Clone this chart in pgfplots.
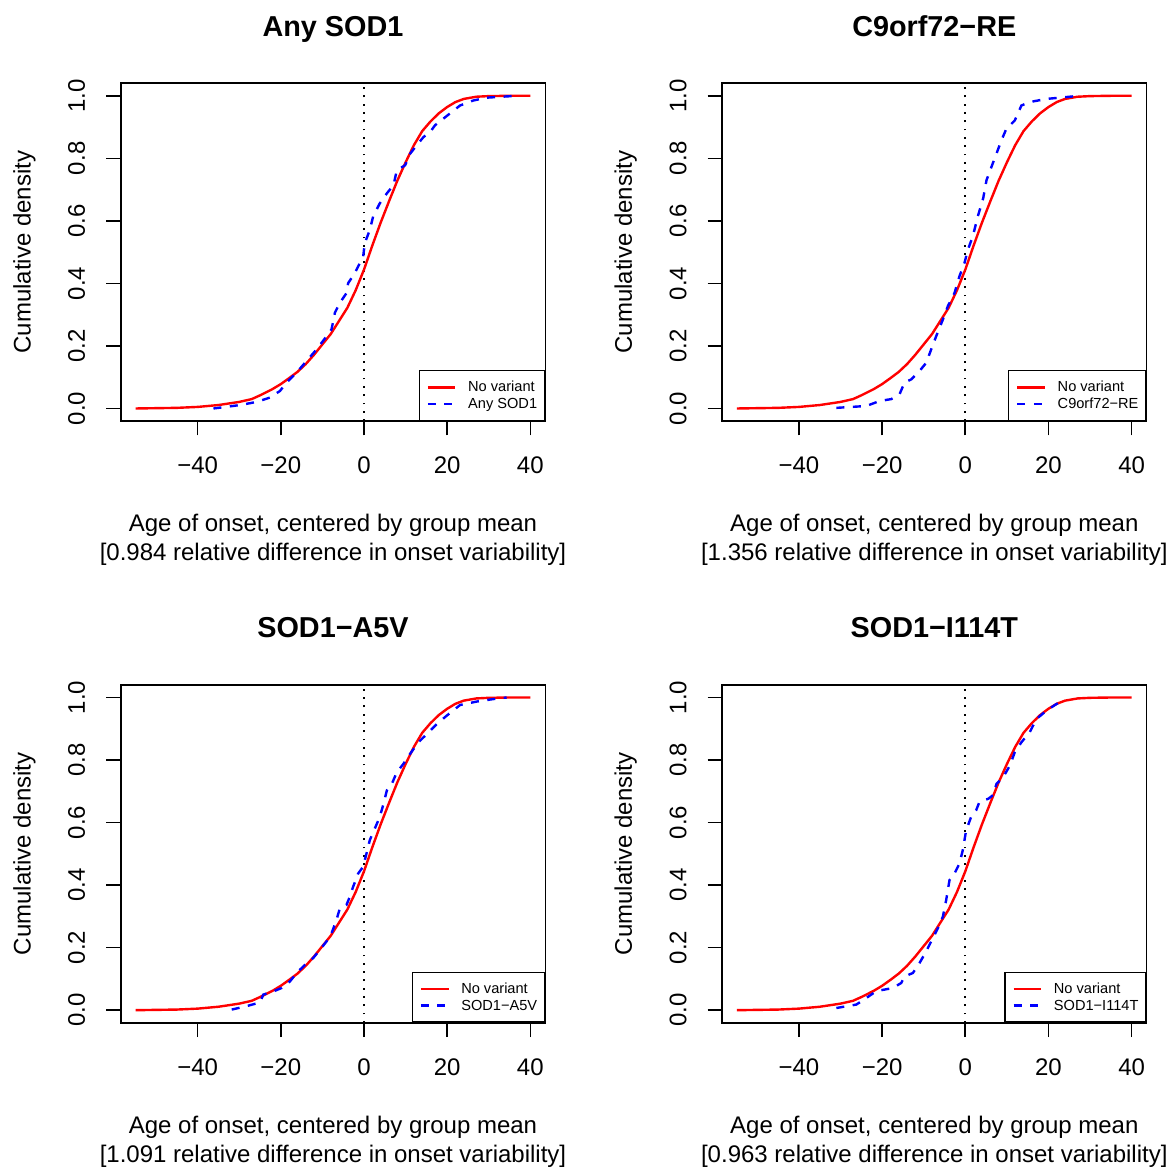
\documentclass[border=0pt]{standalone}
\usepackage{fontspec}
\setmainfont{Liberation Sans}
\usepackage{pgfplots}
\usepackage{pgfplotstable}
\pgfplotsset{compat=1.18}

\pgfplotstableread{
x y
-54.9 0
-50 0.001
-45 0.002
-40 0.005
-35 0.011
-30 0.021
-27 0.030
-25 0.042
-22 0.062
-20 0.078
-18 0.097
-16 0.117
-14 0.142
-12 0.172
-10 0.205
-8 0.238
-6 0.280
-4 0.322
-2 0.378
0 0.444
2 0.521
4 0.594
6 0.662
8 0.728
10 0.787
12 0.842
14 0.887
16 0.918
18 0.944
20 0.964
22 0.980
24 0.990
27 0.997
30 0.999
35 1.0
40 1.0
}\novariant

\pgfplotstableread{
x y
-36.2 0
-29.8 0.011
-25.8 0.021
-22.6 0.035
-20.2 0.056
-18.6 0.083
-16.2 0.115
-13.8 0.152
-11.4 0.189
-9.0 0.231
-7.8 0.253
-7.0 0.306
-5.8 0.338
-4.2 0.369
-3.8 0.401
-2.2 0.433
-0.2 0.486
0.2 0.529
1.4 0.571
2.2 0.614
3.8 0.656
5.5 0.688
7.1 0.714
7.9 0.762
9.9 0.778
11.1 0.815
12.7 0.842
14.3 0.868
15.9 0.884
17.1 0.906
19.1 0.927
21.1 0.948
23.1 0.969
26.3 0.985
29.5 0.994
36.7 1.0
}\anysod

\pgfplotstableread{
x y
-31.0 0.002
-23.8 0.008
-20.6 0.024
-17.8 0.030
-15.8 0.046
-14.6 0.083
-13.0 0.093
-11.0 0.120
-9.4 0.146
-8.2 0.189
-7.0 0.231
-5.4 0.284
-4.2 0.327
-2.6 0.369
-1.4 0.423
-0.2 0.465
0.6 0.507
1.8 0.550
3.0 0.614
4.3 0.672
5.1 0.730
6.3 0.773
7.5 0.815
8.7 0.858
9.9 0.895
11.9 0.921
13.5 0.969
15.5 0.980
19.5 0.990
24.3 0.996
27.5 1.0
}\cnine

\pgfplotstableread{
x y
-31.8 0.002
-28.2 0.013
-25.0 0.025
-24.2 0.050
-21.8 0.060
-19.8 0.071
-17.8 0.092
-16.2 0.119
-14.2 0.145
-12.2 0.167
-10.6 0.193
-9.0 0.220
-7.8 0.246
-6.6 0.289
-5.8 0.326
-4.2 0.337
-3.4 0.363
-2.6 0.395
-1.4 0.437
-0.2 0.459
0.6 0.501
1.4 0.544
2.6 0.581
3.8 0.618
4.7 0.660
5.5 0.703
6.7 0.724
7.9 0.761
9.5 0.788
11.1 0.820
13.1 0.857
15.1 0.883
17.5 0.915
19.9 0.942
23.1 0.976
27.1 0.987
31.1 0.995
34.3 1.0
}\afive

\pgfplotstableread{
x y
-31.0 0.007
-26.2 0.018
-23.8 0.039
-21.4 0.061
-17.4 0.071
-15.4 0.087
-14.6 0.108
-12.6 0.119
-11.0 0.151
-9.4 0.188
-8.2 0.220
-6.6 0.262
-5.4 0.299
-4.6 0.352
-3.8 0.416
-2.6 0.437
-1.4 0.469
-0.6 0.512
0.2 0.575
1.4 0.618
2.6 0.639
3.4 0.666
5.5 0.676
6.7 0.688
7.5 0.724
9.1 0.745
10.7 0.782
11.9 0.825
13.5 0.857
15.5 0.889
17.1 0.931
19.5 0.958
21.9 0.979
23.5 0.989
}\ione

\pgfplotsset{
  panel/.style={
    scale only axis,
    width=424.6pt, height=337.7pt,
    anchor=south west,
    xmin=-58.5, xmax=43.6, ymin=-0.04, ymax=1.04,
    axis line style={line width=1.6pt, black},
    tick align=outside,
    major tick length=14.4pt,
    major tick style={line width=1.6pt, black},
    xtick pos=left, ytick pos=left,
    xtick={-40,-20,0,20,40},
    xticklabels={−40,−20,0,20,40},
    ytick={0,0.2,0.4,0.6,0.8,1},
    yticklabels={0.0,0.2,0.4,0.6,0.8,1.0},
    tick label style={font=\fontsize{24}{28.8}\selectfont},
    xticklabel style={anchor=base, yshift=-38.6pt},
    yticklabel style={xshift=-21.3pt, rotate=90, anchor=base},
    every axis title/.style={at={(axis description cs:0.5,1.140)}, anchor=base, inner sep=0pt,
      font=\bfseries\fontsize{28.8}{34}\selectfont},
    every axis x label/.style={at={(axis description cs:0.5,-0.2754)}, anchor=north, align=center,
      inner sep=0pt, font=\fontsize{24}{28.8}\selectfont},
    every axis y label/.style={at={(axis description cs:-0.2124,0.5)}, rotate=90, anchor=base,
      inner sep=0pt, font=\fontsize{24}{28.8}\selectfont},
    ylabel={Cumulative density},
    legend cell align=left,
    legend image code/.code={\draw[##1] (0pt,0pt) -- (27.6pt,0pt);},
    legend style={at={(1,0)}, anchor=south east, draw=black, line width=1.3pt,
      font=\fontsize{14.6}{16}\selectfont, inner xsep=7.5pt, inner ysep=10.5pt,
      row sep=4.5pt,
      nodes={inner sep=0pt, text height=10.5pt, text depth=1.5pt},
      /tikz/every odd column/.append style={column sep=11.5pt}},
  },
  nov/.style={red, line width=2.4pt},
  var/.style={blue, line width=2.4pt, dash pattern=on 8pt off 8.5pt},
  zero/.style={forget plot, black, line width=1.6pt, dash pattern=on 1.8pt off 6.5pt},
}

\begin{document}
\begin{tikzpicture}
\useasboundingbox (0,0) rectangle (1174pt,1167pt);

\begin{axis}[panel, at={(120.7pt,746pt)}, title={Any SOD1},
  xlabel={Age of onset, centered by group mean\\{[}0.984 relative difference in onset variability{]}}]
\addplot[zero] coordinates {(0,-0.04) (0,1.04)};
\addplot[nov] table {\novariant};
\addplot[var] table {\anysod};
\legend{No variant, Any SOD1}
\end{axis}

\begin{axis}[panel, at={(722pt,746pt)}, title={C9orf72−RE},
  xlabel={Age of onset, centered by group mean\\{[}1.356 relative difference in onset variability{]}}]
\addplot[zero] coordinates {(0,-0.04) (0,1.04)};
\addplot[nov] table {\novariant};
\addplot[var] table {\cnine};
\legend{No variant, C9orf72−RE}
\end{axis}

\begin{axis}[panel, at={(120.7pt,144.3pt)}, title={SOD1−A5V},
  xlabel={Age of onset, centered by group mean\\{[}1.091 relative difference in onset variability{]}}]
\addplot[zero] coordinates {(0,-0.04) (0,1.04)};
\addplot[nov] table {\novariant};
\addplot[var] table {\afive};
\legend{No variant, SOD1−A5V}
\end{axis}

\begin{axis}[panel, at={(722pt,144.3pt)}, title={SOD1−I114T},
  xlabel={Age of onset, centered by group mean\\{[}0.963 relative difference in onset variability{]}}]
\addplot[zero] coordinates {(0,-0.04) (0,1.04)};
\addplot[nov] table {\novariant};
\addplot[var] table {\ione};
\legend{No variant, SOD1−I114T}
\end{axis}

\end{tikzpicture}
\end{document}
